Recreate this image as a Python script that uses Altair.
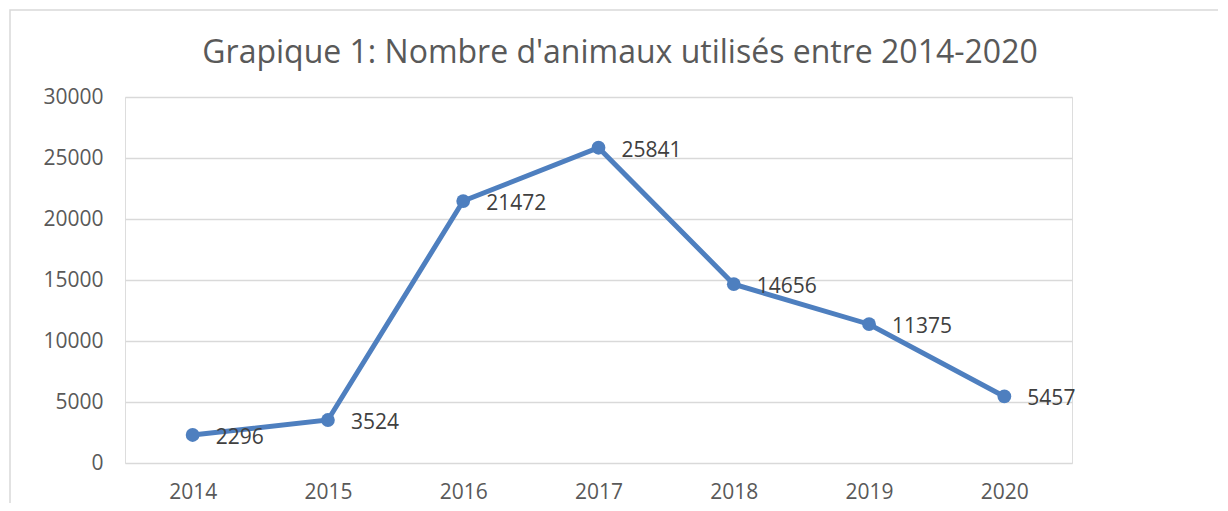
import altair as alt
import pandas as pd

years = ["2014", "2015", "2016", "2017", "2018", "2019", "2020"]
animals = [2296, 3524, 21472, 25841, 14656, 11375, 5457]
title_text = "Grapique 1: Nombre d'animaux utilisés entre 2014-2020"

df = pd.DataFrame({"year": years, "n": animals})

FONT = "Open Sans"
GREY = "#595959"
BLUE = "#4e7fbf"
FS = 21

base = alt.Chart(df)

x = alt.X("year:N", sort=years, title=None,
          scale=alt.Scale(paddingInner=0, paddingOuter=0.5),
          axis=alt.Axis(labelAngle=0, ticks=False, tickSize=0, domain=False, grid=False,
                        labelPadding=29, labelBaseline="middle", labelFontSize=FS,
                        labelFont=FONT, labelColor=GREY))
y = alt.Y("n:Q", title=None,
          scale=alt.Scale(domain=[0, 30000], nice=False),
          axis=alt.Axis(values=[0, 5000, 10000, 15000, 20000, 25000, 30000], format="d",
                        ticks=False, tickSize=0, domain=False, grid=True, gridColor="#d9d9d9",
                        gridWidth=1.3, labelPadding=22, labelFontSize=FS, labelFont=FONT,
                        labelColor=GREY))

line = base.mark_line(color=BLUE, strokeWidth=5).encode(x=x, y=y)
pts = base.mark_circle(color=BLUE, size=190, opacity=1).encode(x=x, y=y)
labels = base.mark_text(align="left", baseline="middle", dx=23, dy=3, fontSize=FS,
                        font=FONT, color="#404040").encode(x=x, y=y, text=alt.Text("n:Q", format="d"))

title_df = pd.DataFrame({"t": [title_text]})
title = alt.Chart(title_df).mark_text(align="center", baseline="alphabetic", fontSize=32,
                                      font=FONT, color=GREY).encode(
    x=alt.value(495), y=alt.value(-34), text="t:N")

frame = alt.Chart(title_df).mark_rect(fill=None, stroke="#d9d9d9", strokeWidth=1.5).encode(
    x=alt.value(-115), x2=alt.value(1120), y=alt.value(-87), y2=alt.value(430))

chart = alt.layer(frame, line, pts, labels, title).properties(
    width=947, height=366,
    autosize=alt.AutoSizeParams(type="none"),
    padding={"left": 117, "top": 89, "right": 146, "bottom": 40},
).configure_view(stroke=None).configure(background="white")

chart.save("out.html", embed_options={"renderer": "svg", "actions": False})
